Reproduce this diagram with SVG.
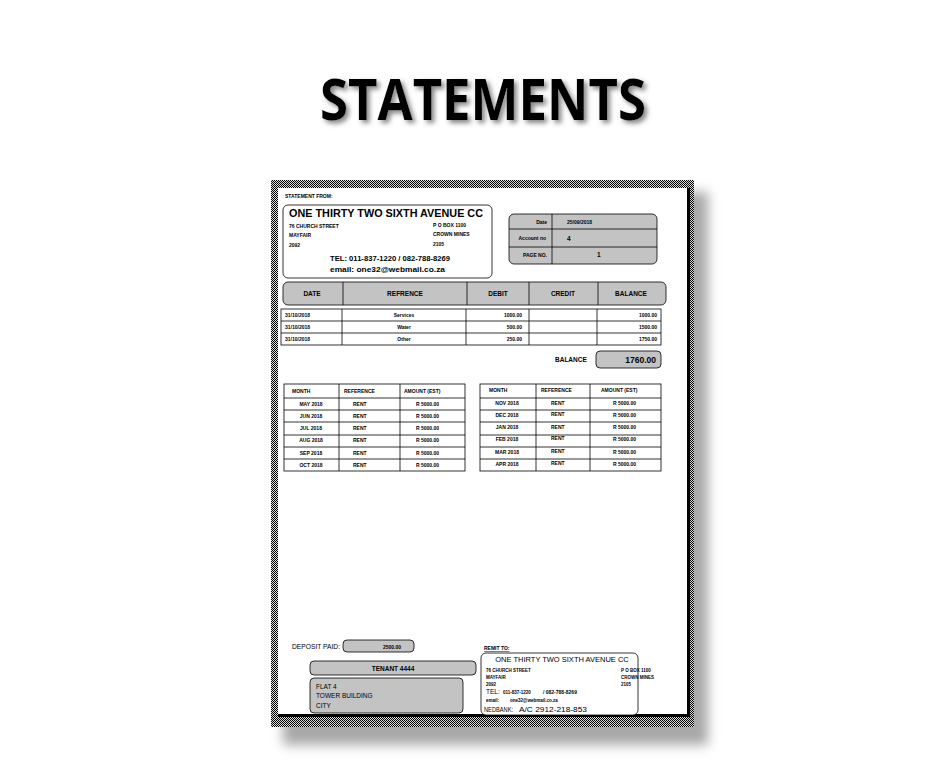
<svg xmlns="http://www.w3.org/2000/svg" width="936" height="768" viewBox="0 0 936 768">
<defs>
<pattern id="chk" width="2" height="2" patternUnits="userSpaceOnUse">
<rect width="2" height="2" fill="#d8d8d8"/>
<rect width="1" height="1" fill="#000"/>
<rect x="1" y="1" width="1" height="1" fill="#000"/>
</pattern>
<filter id="blur" x="-10%" y="-10%" width="120%" height="120%"><feGaussianBlur stdDeviation="6"/></filter>
<filter id="tshadow" x="-10%" y="-20%" width="120%" height="150%"><feDropShadow dx="3" dy="3" stdDeviation="2.5" flood-color="#777" flood-opacity="0.9"/></filter>
<style>
text{font-family:"Liberation Sans",Arial,sans-serif;fill:#000}
.b{font-weight:bold}
.t5{font-size:5px;font-weight:bold}
.t6{font-size:6.5px;font-weight:bold}
.t7{font-size:7px}
.ln{fill:none;stroke:#000;stroke-width:0.8}
.gbox{fill:#c3c3c3;stroke:#000;stroke-width:0.8}
.wbox{fill:#fff;stroke:#000;stroke-width:0.8}
.m{text-anchor:middle}
.r{text-anchor:end}
</style>
</defs>
<rect width="936" height="768" fill="#fff"/>
<g id="title">
<text x="483" y="120" class="b m" font-size="58" textLength="326" lengthAdjust="spacingAndGlyphs" style="font-family:'Open Sans',sans-serif" filter="url(#tshadow)">STATEMENTS</text>
</g>
<g id="page">
<rect x="283" y="192" width="425" height="553" fill="#a8a8a8" filter="url(#blur)"/>
<rect x="271" y="180" width="423" height="547" fill="url(#chk)"/>
<rect x="278" y="188" width="412" height="529" fill="#000"/>
<rect x="278" y="188" width="409" height="526" fill="#fff"/>
</g>
<g id="from">
<text x="285" y="198" class="t5">STATEMENT FROM:</text>
<rect x="283" y="205" width="209" height="73" rx="5" class="wbox"/>
<text x="289" y="217" class="b" font-size="10.5" textLength="194" lengthAdjust="spacingAndGlyphs">ONE THIRTY TWO SIXTH AVENUE CC</text>
<text x="289" y="228" class="t5">76 CHURCH STREET</text>
<text x="289" y="237" class="t5">MAYFAIR</text>
<text x="289" y="247" class="t5">2092</text>
<text x="433" y="227" class="t5">P O BOX 1100</text>
<text x="433" y="236" class="t5">CROWN MINES</text>
<text x="433" y="246" class="t5">2105</text>
<text x="330" y="261" class="b" font-size="7.5" textLength="120" lengthAdjust="spacingAndGlyphs">TEL:  011-837-1220 / 082-788-8269</text>
<text x="330" y="272" class="b" font-size="7" textLength="115" lengthAdjust="spacingAndGlyphs">email:  one32@webmail.co.za</text>
</g>
<g id="info">
<rect x="509" y="214" width="148" height="50" rx="5" class="gbox"/>
<path class="ln" d="M552 214V264M509 229H657M509 247H657"/>
<text x="547" y="224" class="t5 r">Date</text>
<text x="567" y="224" class="t5">25/09/2018</text>
<text x="546" y="240" class="t5 r">Account no</text>
<text x="567" y="241" class="t6">4</text>
<text x="547" y="257" class="t5 r">PAGE NO.</text>
<text x="597" y="257" class="t6">1</text>
</g>
<g id="main-table">
<rect x="283" y="282" width="383" height="23" rx="5" class="gbox"/>
<path class="ln" d="M343 282V305M467 282V305M529 282V305M598 282V305"/>
<text x="312" y="296" class="t6 m">DATE</text>
<text x="405" y="296" class="t6 m">REFRENCE</text>
<text x="498" y="296" class="t6 m">DEBIT</text>
<text x="563" y="296" class="t6 m">CREDIT</text>
<text x="631" y="296" class="t6 m">BALANCE</text>
<rect x="281" y="309" width="380" height="36" class="wbox"/>
<path class="ln" d="M281 321H661M281 333H661M342 309V345M466 309V345M529 309V345M597 309V345"/>
<text x="285" y="317" class="t5">31/10/2018</text>
<text x="285" y="329" class="t5">31/10/2018</text>
<text x="285" y="341" class="t5">31/10/2018</text>
<text x="404" y="317" class="t5 m">Services</text>
<text x="404" y="329" class="t5 m">Water</text>
<text x="404" y="341" class="t5 m">Other</text>
<text x="522" y="317" class="t5 r">1000.00</text>
<text x="522" y="329" class="t5 r">500.00</text>
<text x="522" y="341" class="t5 r">250.00</text>
<text x="657" y="317" class="t5 r">1000.00</text>
<text x="657" y="329" class="t5 r">1500.00</text>
<text x="657" y="341" class="t5 r">1750.00</text>
<text x="555" y="362" class="t6">BALANCE</text>
<rect x="596" y="351" width="65" height="17" rx="4" class="gbox"/>
<text x="656" y="363" class="b r" font-size="8.5">1760.00</text>
</g>
<g id="rent-left">
<rect x="284" y="384" width="181" height="87" class="wbox"/>
<path class="ln" d="M284 398H465M284 410H465M284 422H465M284 435H465M284 447H465M284 459H465M339 384V471M400 384V471"/>
<text x="292" y="393" class="t5">MONTH</text>
<text x="344" y="393" class="t5">REFERENCE</text>
<text x="404" y="393" class="t5">AMOUNT (EST)</text>
<text x="311" y="406" class="t5 m">MAY 2018</text>
<text x="311" y="418" class="t5 m">JUN 2018</text>
<text x="311" y="430" class="t5 m">JUL 2018</text>
<text x="311" y="442" class="t5 m">AUG 2018</text>
<text x="311" y="455" class="t5 m">SEP 2018</text>
<text x="311" y="467" class="t5 m">OCT 2018</text>
<text x="353" y="406" class="t5">RENT</text>
<text x="353" y="418" class="t5">RENT</text>
<text x="353" y="430" class="t5">RENT</text>
<text x="353" y="442" class="t5">RENT</text>
<text x="353" y="455" class="t5">RENT</text>
<text x="353" y="467" class="t5">RENT</text>
<text x="416" y="406" class="t5">R 5000.00</text>
<text x="416" y="418" class="t5">R 5000.00</text>
<text x="416" y="430" class="t5">R 5000.00</text>
<text x="416" y="442" class="t5">R 5000.00</text>
<text x="416" y="455" class="t5">R 5000.00</text>
<text x="416" y="467" class="t5">R 5000.00</text>
</g>
<g id="rent-right">
<rect x="480" y="384" width="181" height="87" class="wbox"/>
<path class="ln" d="M480 398H661M480 410H661M480 422H661M480 435H661M480 447H661M480 459H661M536 384V471M590 384V471"/>
<text x="489" y="392" class="t5">MONTH</text>
<text x="541" y="392" class="t5">REFERENCE</text>
<text x="601" y="392" class="t5">AMOUNT (EST)</text>
<text x="507" y="405" class="t5 m">NOV 2018</text>
<text x="507" y="417" class="t5 m">DEC 2018</text>
<text x="507" y="429" class="t5 m">JAN 2018</text>
<text x="507" y="441" class="t5 m">FEB 2018</text>
<text x="507" y="454" class="t5 m">MAR 2018</text>
<text x="507" y="466" class="t5 m">APR 2018</text>
<text x="551" y="405" class="t5">RENT</text>
<text x="551" y="416" class="t5">RENT</text>
<text x="551" y="429" class="t5">RENT</text>
<text x="551" y="440" class="t5">RENT</text>
<text x="551" y="453" class="t5">RENT</text>
<text x="551" y="465" class="t5">RENT</text>
<text x="613" y="405" class="t5">R 5000.00</text>
<text x="613" y="417" class="t5">R 5000.00</text>
<text x="613" y="429" class="t5">R 5000.00</text>
<text x="613" y="441" class="t5">R 5000.00</text>
<text x="613" y="454" class="t5">R 5000.00</text>
<text x="613" y="466" class="t5">R 5000.00</text>
</g>
<g id="deposit">
<text x="292" y="649" class="t7" textLength="48" lengthAdjust="spacingAndGlyphs">DEPOSIT PAID:</text>
<rect x="343" y="640" width="71" height="12" rx="4" class="gbox"/>
<text x="401" y="649" class="t5 r">2500.00</text>
</g>
<g id="tenant">
<rect x="310" y="661" width="166" height="14" rx="4" class="gbox"/>
<text x="393" y="671" class="b m" font-size="6.5">TENANT 4444</text>
<rect x="310" y="678" width="153" height="35" rx="4" class="gbox"/>
<text x="316" y="689" font-size="6.5">FLAT 4</text>
<text x="316" y="698" font-size="6.5">TOWER BUILDING</text>
<text x="316" y="708" font-size="6.5">CITY</text>
</g>
<g id="remit">
<text x="484" y="650" class="t5" text-decoration="underline">REMIT TO:</text>
<rect x="481" y="653" width="157" height="62" rx="5" class="wbox"/>
<text x="562" y="662" class="m" font-size="7.5">ONE THIRTY TWO SIXTH AVENUE CC</text>
<text x="486" y="672" font-size="4.5" class="b">76 CHURCH STREET</text>
<text x="486" y="679" font-size="4.5" class="b">MAYFAIR</text>
<text x="486" y="686" font-size="4.5" class="b">2092</text>
<text x="621" y="672" font-size="4.5" class="b">P O BOX 1100</text>
<text x="621" y="679" font-size="4.5" class="b">CROWN MINES</text>
<text x="621" y="686" font-size="4.5" class="b">2105</text>
<text x="486" y="694" font-size="6.5">TEL:</text>
<text x="503" y="694" font-size="4.5" class="b">011-837-1220</text>
<text x="543" y="694" font-size="5" class="b">/ 082-788-8269</text>
<text x="486" y="702" font-size="4.5" class="b">email:</text>
<text x="510" y="702" font-size="4.5" class="b">one32@webmail.co.za</text>
<text x="484" y="712" font-size="7" textLength="29" lengthAdjust="spacingAndGlyphs">NEDBANK:</text>
<text x="519" y="712" font-size="7" textLength="68" lengthAdjust="spacingAndGlyphs">A/C 2912-218-853</text>
</g>
</svg>
